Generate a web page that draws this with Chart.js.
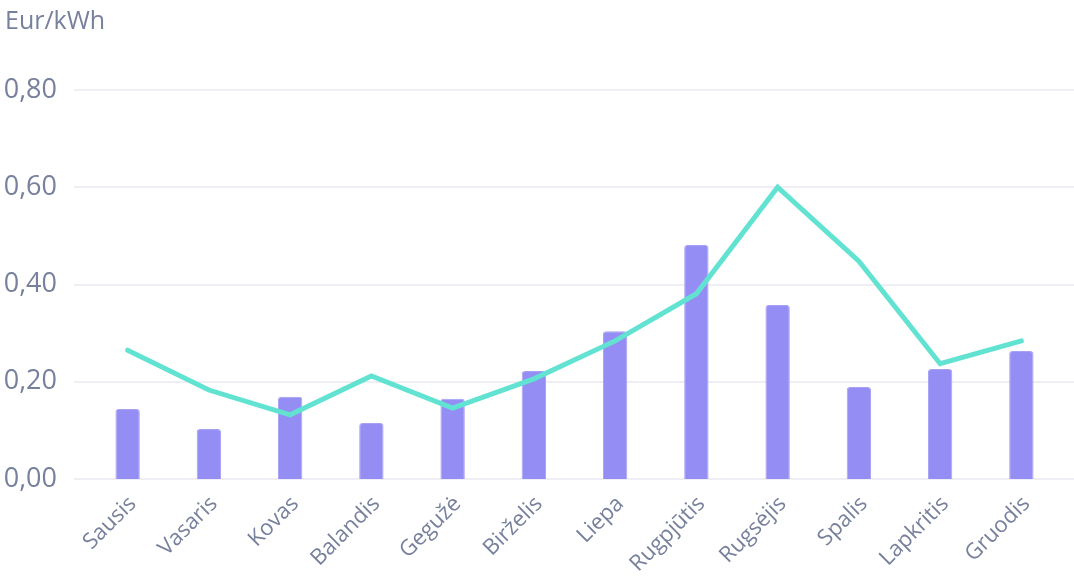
<!DOCTYPE html>
<html>
<head>
<meta charset="utf-8">
<script src="https://cdn.jsdelivr.net/npm/chart.js@4/dist/chart.umd.min.js"></script>
<style>
    html, body { margin: 0; padding: 0; background: #fff; }
    #wrap { width: 1074px; height: 578px; }
</style>
</head>
<body>
<div id="wrap"><canvas id="chart"></canvas></div>
<script>
const months = ['Sausis', 'Vasaris', 'Kovas', 'Balandis', 'Gegužė', 'Birželis',
    'Liepa', 'Rugpjūtis', 'Rugsėjis', 'Spalis', 'Lapkritis', 'Gruodis'];
const barValues = [0.144, 0.103, 0.169, 0.115, 0.165, 0.222, 0.304, 0.481, 0.358, 0.189, 0.226, 0.263];
const lineValues = [0.265, 0.183, 0.132, 0.212, 0.146, 0.206, 0.284, 0.381, 0.600, 0.448, 0.237, 0.284];
const yTicks = [0, 0.2, 0.4, 0.6, 0.8];

const textColor = '#77809c';
const gridColor = '#eeeef4';

// grid lines run a bit past the plot area on both sides
const wideGrid = {
    id: 'wideGrid',
    beforeDatasetsDraw(chart) {
        let ctx = chart.ctx;
        let y = chart.scales.y;
        ctx.save();
        ctx.strokeStyle = gridColor;
        ctx.lineWidth = 2;
        yTicks.forEach(v => {
            let py = Math.round(y.getPixelForValue(v));
            ctx.beginPath();
            ctx.moveTo(chart.chartArea.left - 13, py);
            ctx.lineTo(chart.width, py);
            ctx.stroke();
        });
        ctx.restore();
    }
};

let canvas = document.getElementById('chart').getContext('2d');

new Chart(canvas, {
    type: 'bar',
    data: {
        labels: months,
        datasets: [{
            type: 'line',
            data: lineValues,
            borderColor: '#62e3d2',
            borderWidth: 5,
            borderCapStyle: 'round',
            tension: 0,
            pointRadius: 0,
            order: 0
        }, {
            type: 'bar',
            data: barValues,
            backgroundColor: '#948df3',
            borderColor: '#a7a1f6',
            borderWidth: 1,
            borderRadius: 3,
            borderSkipped: 'bottom',
            barPercentage: 0.3,
            categoryPercentage: 1,
            order: 1
        }]
    },
    options: {
        responsive: true,
        maintainAspectRatio: false,
        animation: false,
        layout: { padding: { left: 5, right: 12, top: 4, bottom: 4 } },
        plugins: {
            legend: { display: false },
            tooltip: { enabled: false },
            title: {
                display: true,
                text: 'Eur/kWh',
                align: 'start',
                color: textColor,
                font: { family: 'Open Sans', size: 25, weight: 'normal' },
                padding: { top: 3, bottom: 53 }
            }
        },
        scales: {
            x: {
                grid: { display: false, drawTicks: false },
                border: { display: false },
                afterFit: axis => {
                    axis.paddingLeft = 0;
                    axis.paddingRight = 0;
                    axis.height = 95;
                },
                ticks: {
                    color: textColor,
                    font: { family: 'Open Sans', size: 22 },
                    minRotation: 45,
                    maxRotation: 45,
                    labelOffset: 5,
                    padding: 12
                }
            },
            y: {
                min: 0,
                max: 0.8,
                afterBuildTicks: axis => { axis.ticks = yTicks.map(v => ({ value: v })); },
                afterFit: axis => { axis.width = 82; },
                grid: { display: false, drawTicks: false },
                border: { display: false },
                ticks: {
                    color: textColor,
                    font: { family: 'Open Sans', size: 27 },
                    padding: 30,
                    callback: v => v.toFixed(2).replace('.', ',')
                }
            }
        }
    },
    plugins: [wideGrid]
});
</script>
</body>
</html>
